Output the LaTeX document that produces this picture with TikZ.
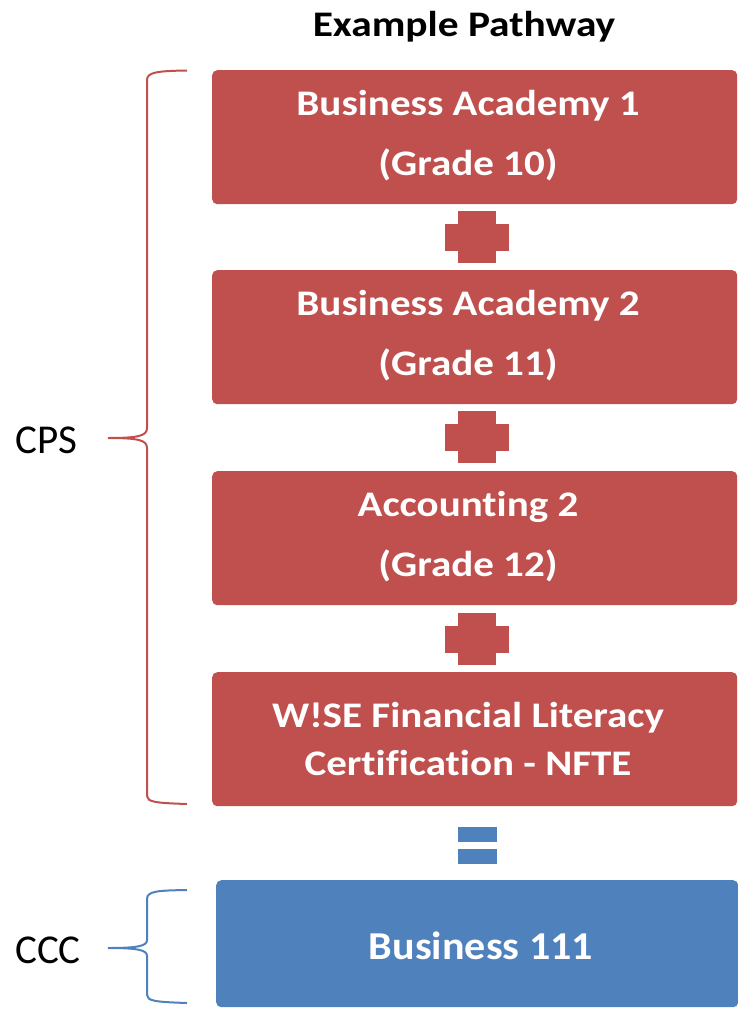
\documentclass[tikz,border=0pt]{standalone}
\usepackage{fontspec}
\setmainfont[Ligatures=NoCommon]{Carlito}
\newfontfamily\boxfont[Ligatures=NoCommon, FakeStretch=1.14]{Carlito}
\newfontfamily\titlefont[Ligatures=NoCommon, FakeStretch=1.15]{Carlito}
\newfontfamily\cccfont[Ligatures=NoCommon, FakeStretch=1.065]{Carlito}
\definecolor{cpsred}{HTML}{C0504D}
\definecolor{cccblue}{HTML}{4F81BD}
\begin{document}
\begin{tikzpicture}[x=1pt,y=-1pt,
  redbox/.style={fill=cpsred, rounded corners=5pt, inner sep=0pt, anchor=north west, minimum width=525pt, minimum height=134pt},
  bluebox/.style={fill=cccblue, rounded corners=5pt, inner sep=0pt, anchor=north west, minimum width=522pt, minimum height=127pt},
  boxtext/.style={text=white, font=\boxfont\bfseries\fontsize{36pt}{40pt}\selectfont, anchor=base, inner sep=0pt},
  sidelabel/.style={text=black, font=\fontsize{41pt}{44pt}\selectfont, anchor=base west, inner sep=0pt},
  bracered/.style={draw=cpsred, line width=2pt},
  braceblue/.style={draw=cccblue, line width=2pt}]
\useasboundingbox (0,0) rectangle (738,1009);

% title
\node[font=\titlefont\bfseries\fontsize{36pt}{40pt}\selectfont, anchor=base, inner sep=0pt] (title) at (464,36) {Example Pathway};

% boxes
\node[redbox] (b1) at (212,70) {};
\node[redbox] (b2) at (212,270) {};
\node[redbox] (b3) at (212,471) {};
\node[redbox] (b4) at (212,672) {};
\node[bluebox] (b5) at (216,880) {};

% texts
\node[boxtext] (t1a) at (468,115) {Business Academy 1};
\node[boxtext] (t1b) at (468,175) {(Grade 10)};
\node[boxtext] (t2a) at (468,315) {Business Academy 2};
\node[boxtext] (t2b) at (468,375) {(Grade 11)};
\node[boxtext] (t3a) at (468,516) {Accounting 2};
\node[boxtext] (t3b) at (468,576) {(Grade 12)};
\node[boxtext] (t4a) at (468,727) {W!SE Financial Literacy};
\node[boxtext] (t4b) at (468,775) {Certification - NFTE};
\node[boxtext, font=\cccfont\bfseries\fontsize{39.5pt}{44pt}\selectfont] (t5) at (481,959) {Business 111};

% plus signs
\foreach \cy in {237,437,639} {
  \fill[cpsred] (458,\cy-26) rectangle (496,\cy+26);
  \fill[cpsred] (445,\cy-13) rectangle (509,\cy+14);
}
% equals sign
\fill[cccblue] (458,827) rectangle (497,842);
\fill[cccblue] (458,849) rectangle (497,864);

% braces
\draw[bracered] (187,70.5) .. controls (158,71) and (147,72) .. (147,80)
  -- (147,428) .. controls (147,436) and (138,438) .. (108,438)
  .. controls (138,438) and (147,440) .. (147,448)
  -- (147,796) .. controls (147,802) and (156,803) .. (187,804);
\draw[braceblue] (187,890) .. controls (158,890.5) and (147,891) .. (147,899)
  -- (147,940) .. controls (147,946) and (138,948) .. (108,948)
  .. controls (138,948) and (147,950) .. (147,956)
  -- (147,995) .. controls (147,1001) and (156,1002) .. (187,1003);

% side labels
\node[sidelabel] (cps) at (15,453) {CPS};
\node[sidelabel] (ccc) at (15,963) {CCC};
\end{tikzpicture}
\end{document}
